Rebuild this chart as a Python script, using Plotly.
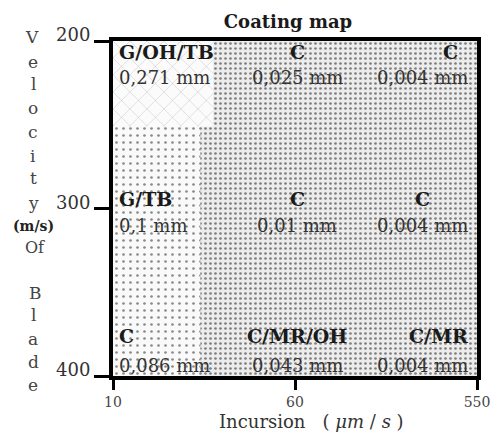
import plotly.graph_objects as go

# ---- data ----
incursion_labels = ["10", "60", "550"]          # x tick labels (µm/s)
incursion_pos = [0, 1, 2]                        # evenly spaced categories
velocity_ticks = [200, 300, 400]                 # m/s
coating_labels = [
    ["G/OH/TB", "C", "C"],
    ["G/TB", "C", "C"],
    ["C", "C/MR/OH", "C/MR"],
]
thickness_mm = [
    ["0,271", "0,025", "0,004"],
    ["0,1", "0,01", "0,004"],
    ["0,086", "0,043", "0,004"],
]
# texture zones of the map (x in category units, y in m/s)
sparse_zone_x = [0, 0.48]
hatched_zone_x = [0, 0.55]
hatched_zone_y = [200, 251]

FONT = "DejaVu Serif"

fig = go.Figure()

def rect(x0, x1, y0, y1):
    return [x0, x1, x1, x0, x0], [y0, y0, y1, y1, y0]

# dense dotted background
xs, ys = rect(incursion_pos[0], incursion_pos[-1], velocity_ticks[0], velocity_ticks[-1])
fig.add_trace(go.Scatter(x=xs, y=ys, fill="toself", mode="none", hoverinfo="skip",
                         fillcolor="white",
                         fillpattern=dict(shape=".", size=5, solidity=0.22,
                                          fgcolor="#7c7c7c", bgcolor="#ececec",
                                          fillmode="replace")))
# sparse dotted zone
xs, ys = rect(sparse_zone_x[0], sparse_zone_x[1], velocity_ticks[0], velocity_ticks[-1])
fig.add_trace(go.Scatter(x=xs, y=ys, fill="toself", mode="none", hoverinfo="skip",
                         fillcolor="white",
                         fillpattern=dict(shape=".", size=7, solidity=0.12,
                                          fgcolor="#8a8a8a", bgcolor="#f9f9f9",
                                          fillmode="replace")))
# hatched zone top-left
xs, ys = rect(hatched_zone_x[0], hatched_zone_x[1], hatched_zone_y[0], hatched_zone_y[1])
fig.add_trace(go.Scatter(x=xs, y=ys, fill="toself", mode="none", hoverinfo="skip",
                         fillcolor="white",
                         fillpattern=dict(shape="x", size=12, solidity=0.05,
                                          fgcolor="#a0a0a0", bgcolor="#fbfbfb",
                                          fillmode="replace")))

# cell annotations
col_anchor = ["left", "center", "right"]
col_shift = [4, 2, -7]
label_shift = {(0, 2): -10, (1, 2): -38}
label_yshift = [-11, 10, 40]
value_yshift = [-36, -17, 11]
for r, vel in enumerate(velocity_ticks):
    for c, xp in enumerate(incursion_pos):
        fig.add_annotation(x=xp, y=vel, text="<b>%s</b>" % coating_labels[r][c],
                           showarrow=False, xanchor=col_anchor[c], yanchor="middle",
                           xshift=col_shift[c] + label_shift.get((r, c), 0),
                           yshift=label_yshift[r],
                           font=dict(family=FONT, size=19, color="#1a1a1a"))
        fig.add_annotation(x=xp, y=vel, text="%s mm" % thickness_mm[r][c],
                           showarrow=False, xanchor=col_anchor[c], yanchor="middle",
                           xshift=col_shift[c], yshift=value_yshift[r],
                           font=dict(family=FONT, size=18, color="#333333"))

# stacked y-axis title
W, H = 492, 437
L, R, T, B = 113, 15, 41, 61
pw, ph = W - L - R, H - T - B
def px(xp):
    return (xp - L) / pw
def py(yp):
    return (H - B - yp) / ph

stack = [("V", 32, 37), ("e", 33, 62), ("l", 33, 84), ("o", 33, 108), ("c", 33, 132),
         ("i", 33, 156), ("t", 33, 178), ("y", 33, 203)]
for ch, x, y in stack:
    fig.add_annotation(xref="paper", yref="paper", x=px(x), y=py(y), text=ch,
                       showarrow=False, xanchor="center", yanchor="middle",
                       font=dict(family=FONT, size=17, color="#444"))
fig.add_annotation(xref="paper", yref="paper", x=px(33), y=py(226), text="<b>(m/s)</b>",
                   showarrow=False, xanchor="center", yanchor="middle",
                   font=dict(family=FONT, size=14, color="#222"))
fig.add_annotation(xref="paper", yref="paper", x=px(35), y=py(247), text="Of",
                   showarrow=False, xanchor="center", yanchor="middle",
                   font=dict(family=FONT, size=16, color="#444"))
for ch, x, y in [("B", 35, 293), ("l", 33, 315), ("a", 33, 339), ("d", 33, 362), ("e", 33, 385)]:
    fig.add_annotation(xref="paper", yref="paper", x=px(x), y=py(y), text=ch,
                       showarrow=False, xanchor="center", yanchor="middle",
                       font=dict(family=FONT, size=17, color="#444"))

# x-axis title
fig.add_annotation(xref="paper", yref="paper", x=px(311), y=py(421),
                   text="Incursion &nbsp;&nbsp;( <i>μm</i> / <i>s</i> )",
                   showarrow=False, xanchor="center", yanchor="middle",
                   font=dict(family=FONT, size=18, color="#333"))

fig.update_layout(
    width=W, height=H,
    margin=dict(l=L, r=R, t=T, b=B, autoexpand=False),
    paper_bgcolor="white", plot_bgcolor="white",
    showlegend=False,
    title=dict(text="<b>Coating map</b>", x=px(288), xref="paper", xanchor="center",
               y=1 - 22 / H, yanchor="middle", automargin=False,
               font=dict(family=FONT, size=18, color="#1a1a1a")),
)
fig.update_xaxes(range=[incursion_pos[0], incursion_pos[-1]], tickvals=incursion_pos,
                 ticktext=incursion_labels, showgrid=False, zeroline=False,
                 showline=True, linecolor="black", linewidth=4, mirror=True,
                 ticks="outside", ticklen=10, tickwidth=3, tickcolor="black",
                 automargin=False,
                 tickfont=dict(family=FONT, size=14, color="#444"))
fig.update_yaxes(range=[velocity_ticks[-1], velocity_ticks[0]], tickvals=velocity_ticks,
                 showgrid=False, zeroline=False,
                 showline=True, linecolor="black", linewidth=4, mirror=True,
                 ticks="outside", ticklen=15, tickwidth=3, tickcolor="black",
                 ticklabelshift=6, automargin=False,
                 tickfont=dict(family=FONT, size=18, color="#333"))

fig.write_html("out.html", config={"displayModeBar": False},
               post_script="document.body.style.margin='0';document.body.style.overflow='hidden';")
